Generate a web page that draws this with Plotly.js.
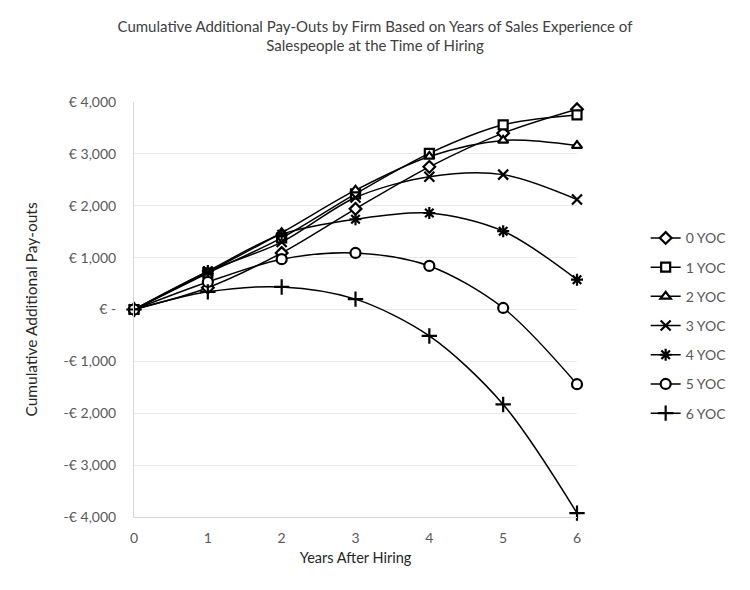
<!DOCTYPE html>
<html>
<head>
<meta charset="utf-8">
<script src="https://cdn.plot.ly/plotly-3.0.1.min.js"></script>
<style>
html,body{margin:0;padding:0;background:#fff;}
#chart{width:750px;height:590px;}
</style>
</head>
<body>
<div id="chart"></div>
<script>
var years = [0, 1, 2, 3, 4, 5, 6];
var seriesNames = ["0 YOC", "1 YOC", "2 YOC", "3 YOC", "4 YOC", "5 YOC", "6 YOC"];
var yoc0 = [0, 420, 1090, 1940, 2750, 3400, 3860];
var yoc1 = [0, 700, 1380, 2230, 3010, 3560, 3750];
var yoc2 = [0, 720, 1480, 2300, 2950, 3260, 3160];
var yoc3 = [0, 730, 1300, 2160, 2560, 2600, 2120];
var yoc4 = [0, 740, 1450, 1740, 1860, 1510, 575];
var yoc5 = [0, 530, 970, 1090, 840, 30, -1440];
var yoc6 = [0, 340, 435, 200, -510, -1830, -3925];
var yTickVals = [4000, 3000, 2000, 1000, 0, -1000, -2000, -3000, -4000];
var yTickText = ["€ 4,000", "€ 3,000", "€ 2,000", "€ 1,000", "€ -", "-€ 1,000", "-€ 2,000", "-€ 3,000", "-€ 4,000"];
var xTickVals = [0, 1, 2, 3, 4, 5, 6];

var allSeries = [yoc0, yoc1, yoc2, yoc3, yoc4, yoc5, yoc6];
var symbols = ["diamond", "square", "triangle-up", "x-thin-open", "asterisk-open", "circle", "cross-thin-open"];
var sizes = [9, 9, 9, 10, 10, 10, 11];
var fills = ["#ffffff", "#ffffff", "#ffffff", "#000000", "#000000", "#ffffff", "#000000"];

var traces = allSeries.map(function (ys, i) {
  return {
    type: "scatter",
    mode: "lines+markers",
    name: seriesNames[i],
    legendgroup: "g" + i,
    x: years,
    y: ys,
    cliponaxis: false,
    line: { color: "#000000", width: 1.5, shape: "spline", smoothing: 0.9 },
    marker: {
      symbol: symbols[i],
      size: sizes[i],
      color: fills[i],
      line: { color: "#000000", width: 2.2 }
    }
  };
});

var fontFam = "Lato, 'Open Sans', sans-serif";

var layout = {
  width: 750,
  height: 590,
  paper_bgcolor: "#ffffff",
  plot_bgcolor: "#ffffff",
  margin: { l: 134, r: 173, t: 102, b: 73 },
  font: { family: fontFam, color: "#595959", size: 14 },
  title: {
    text: "Cumulative Additional Pay-Outs by Firm Based on Years of Sales Experience of<br>Salespeople at the Time of Hiring",
    font: { family: fontFam, size: 15, color: "#404040" },
    x: 0.5,
    xanchor: "center",
    xref: "container",
    y: 0.946,
    yanchor: "middle"
  },
  xaxis: {
    range: [0, 6],
    tickvals: xTickVals,
    ticktext: xTickVals.map(String),
    showgrid: false,
    zeroline: false,
    showline: true,
    linecolor: "#d6d8e0",
    linewidth: 1,
    ticks: "",
    ticklabelstandoff: 8,
    tickfont: { size: 14, color: "#595959", family: fontFam },
    title: { text: "Years After Hiring", font: { size: 14.5, color: "#262626", family: fontFam }, standoff: 8 }
  },
  yaxis: {
    range: [-4000, 4000],
    tickvals: yTickVals,
    ticktext: yTickText,
    showgrid: true,
    gridcolor: "#e8e9ef",
    gridwidth: 1,
    zeroline: false,
    showline: true,
    linecolor: "#d6d8e0",
    linewidth: 1,
    ticks: "",
    ticklabelstandoff: 14,
    tickfont: { size: 14, color: "#595959", family: fontFam },
    title: { text: "Cumulative Additional Pay-outs", font: { size: 15.5, color: "#262626", family: fontFam }, standoff: 22 }
  },
  showlegend: true,
  legend: {
    x: 1.155,
    xanchor: "left",
    y: 0.71,
    yanchor: "top",
    font: { size: 14, color: "#595959", family: fontFam },
    tracegroupgap: 8,
    bgcolor: "rgba(0,0,0,0)"
  }
};

Plotly.newPlot("chart", traces, layout, { displayModeBar: false, staticPlot: true });
</script>
</body>
</html>
